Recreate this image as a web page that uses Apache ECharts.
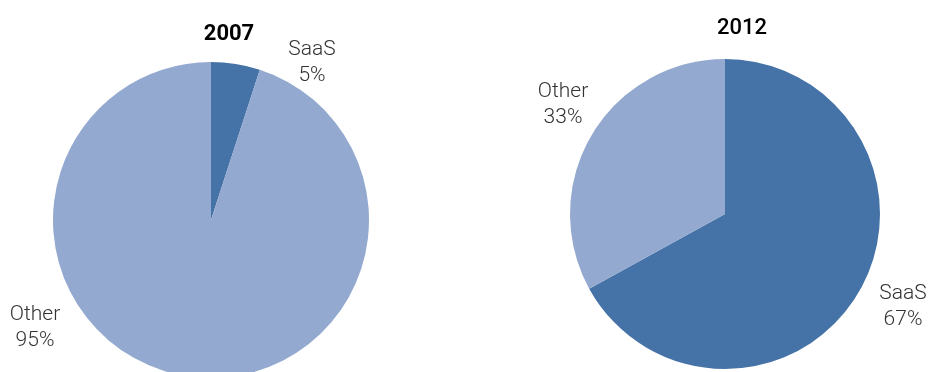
<!DOCTYPE html>
<html>
<head>
<meta charset="utf-8">
<script src="https://cdn.jsdelivr.net/npm/echarts@6/dist/echarts.min.js"></script>
<style>
  html, body { margin: 0; padding: 0; background: #fff; }
  #chart { width: 932px; height: 372px; }
</style>
</head>
<body>
<div id="chart"></div>
<script>
// Market share of SaaS vs. other delivery models
const categories = ['SaaS', 'Other'];
const share2007 = [5, 95];
const share2012 = [67, 33];
const years = ['2007', '2012'];

const colors = ['#4572A7', '#94A9CF'];

// Label anchor points (px) for each pie, in category order
const labelPos = [
  [[312, 63], [35, 328]],
  [[903, 307], [563, 105]]
];

const labelFont = {
  fontFamily: 'Roboto, "Liberation Sans", sans-serif',
  fontWeight: 300,
  fontSize: 21,
  lineHeight: 26,
  color: '#333'
};

function pieSeries(values, center, radius, idx) {
  return {
    type: 'pie',
    center: center,
    radius: radius,
    startAngle: 90,
    clockwise: true,
    silent: true,
    animation: false,
    data: categories.map((c, i) => ({
      name: c,
      value: values[i],
      itemStyle: { color: colors[i] }
    })),
    label: Object.assign({
      show: true,
      position: 'outside',
      formatter: '{b}\n{c}%',
      align: 'center',
      overflow: 'none',
      width: 100
    }, labelFont),
    labelLine: { show: false },
    labelLayout: function (params) {
      const p = labelPos[idx][params.dataIndex];
      return { x: p[0], y: p[1], align: 'center', verticalAlign: 'middle' };
    }
  };
}

const chart = echarts.init(document.getElementById('chart'), null, { renderer: 'canvas' });
chart.setOption({
  backgroundColor: '#fff',
  title: [
    {
      text: years[0], left: 224, top: 18, textAlign: 'center',
      textStyle: { fontFamily: 'Roboto, "Liberation Sans", sans-serif', fontWeight: 'bold', fontSize: 22, color: '#000' }
    },
    {
      text: years[1], left: 737, top: 12, textAlign: 'center',
      textStyle: { fontFamily: 'Roboto, "Liberation Sans", sans-serif', fontWeight: 500, fontSize: 22, color: '#000' }
    }
  ],
  series: [
    pieSeries(share2007, [211, 220], 158, 0),
    pieSeries(share2012, [725, 214], 155, 1)
  ]
});
</script>
</body>
</html>
